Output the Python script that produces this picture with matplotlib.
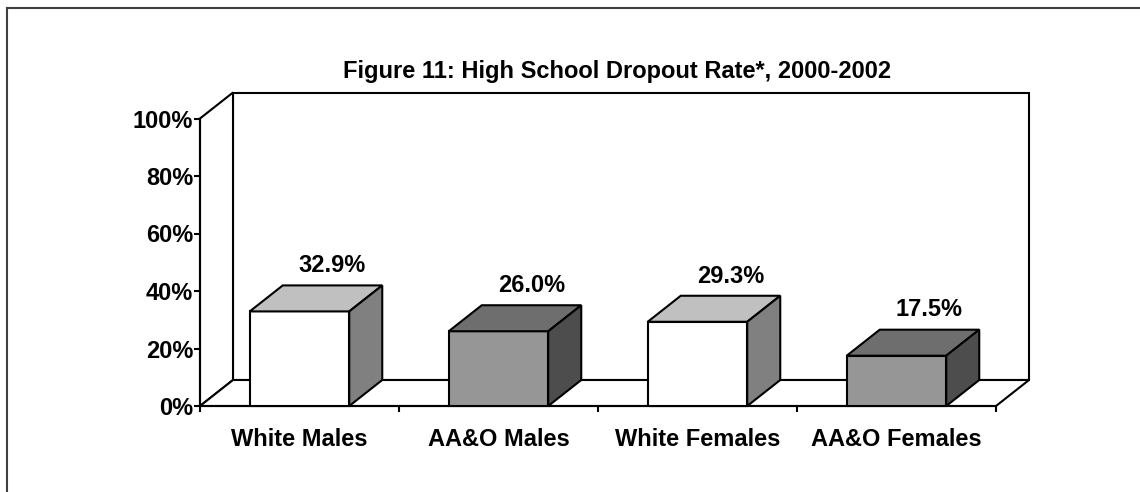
import matplotlib
matplotlib.use("Agg")

import matplotlib.pyplot as plt
from matplotlib.patches import Polygon
from matplotlib.lines import Line2D

# data
categories = ["White Males", "AA&O Males", "White Females", "AA&O Females"]
rates = [32.9, 26.0, 29.3, 17.5]
rate_labels = ["32.9%", "26.0%", "29.3%", "17.5%"]
y_ticks = [0, 20, 40, 60, 80, 100]
y_tick_labels = ["0%", "20%", "40%", "60%", "80%", "100%"]
title = "Figure 11: High School Dropout Rate*, 2000-2002"

# face colours (front, top, side) per bar style
light_faces = ("#FFFFFF", "#C0C0C0", "#808080")
dark_faces = ("#969696", "#6E6E6E", "#4D4D4D")
bar_faces = [light_faces, dark_faces, light_faces, dark_faces]

W, H, DPI = 1140, 492, 100
plt.rcParams["font.family"] = ["Liberation Sans", "DejaVu Sans"]
plt.rcParams["font.weight"] = "bold"
FS = 17

fig = plt.figure(figsize=(W / DPI, H / DPI), dpi=DPI)
ax = fig.add_axes([200 / W, 86 / H, 796 / W, 287.5 / H])
n = len(categories)
ax.set_xlim(0, n)
ax.set_ylim(0, 100)

# oblique depth offset in data units (33 px right, 26 px up)
dx = 33 / 199
dy = 26 / 287.5 * 100
lw = 1.5

def poly(pts, fc, z):
    ax.add_patch(Polygon(pts, closed=True, facecolor=fc, edgecolor="black",
                         linewidth=lw, joinstyle="miter", clip_on=False, zorder=z))

# walls and floor
poly([(dx, dy), (n + dx, dy), (n + dx, 100 + dy), (dx, 100 + dy)], "white", 1)
poly([(0, 0), (dx, dy), (dx, 100 + dy), (0, 100)], "white", 1)
poly([(0, 0), (n, 0), (n + dx, dy), (dx, dy)], "white", 1)

# bars
bw = 0.5
for i, (v, faces) in enumerate(zip(rates, bar_faces)):
    x0 = i + (1 - bw) / 2
    x1 = x0 + bw
    front, top, side = faces
    poly([(x0, 0), (x1, 0), (x1, v), (x0, v)], front, 3)
    poly([(x0, v), (x1, v), (x1 + dx, v + dy), (x0 + dx, v + dy)], top, 3)
    poly([(x1, 0), (x1 + dx, dy), (x1 + dx, v + dy), (x1, v)], side, 3)
    ax.text(i + 0.5 + dx, v + dy + 4.6, rate_labels[i], ha="center",
            va="baseline", fontsize=FS, fontweight="bold", zorder=5)

# axes styling
for s in ["top", "right"]:
    ax.spines[s].set_visible(False)
for s in ["left", "bottom"]:
    ax.spines[s].set_linewidth(lw)
    ax.spines[s].set_zorder(2)
ax.patch.set_alpha(0)

ax.set_yticks(y_ticks)
ax.set_yticklabels(y_tick_labels, fontsize=FS, fontweight="bold")
ax.tick_params(axis="y", direction="out", length=4, width=lw, pad=1)

ax.set_xticks(range(n + 1))
ax.set_xticklabels([])
ax.tick_params(axis="x", which="major", direction="out", length=4, width=lw)
ax.set_xticks([i + 0.5 for i in range(n)], minor=True)
ax.set_xticklabels(categories, minor=True, fontsize=FS, fontweight="bold")
ax.tick_params(axis="x", which="minor", length=0, pad=16)

fig.text(617 / W, (H - 78) / H, title, ha="center", va="baseline",
         fontsize=FS, fontweight="bold")

# outer frame (left and top edges visible)
fig.add_artist(Line2D([7 / W, 7 / W], [0, (H - 8) / H], color="#404040",
                      linewidth=1.5, transform=fig.transFigure))
fig.add_artist(Line2D([7 / W, 1], [(H - 8) / H, (H - 8) / H], color="#404040",
                      linewidth=1.5, transform=fig.transFigure))

fig.savefig("out.png", dpi=DPI)
